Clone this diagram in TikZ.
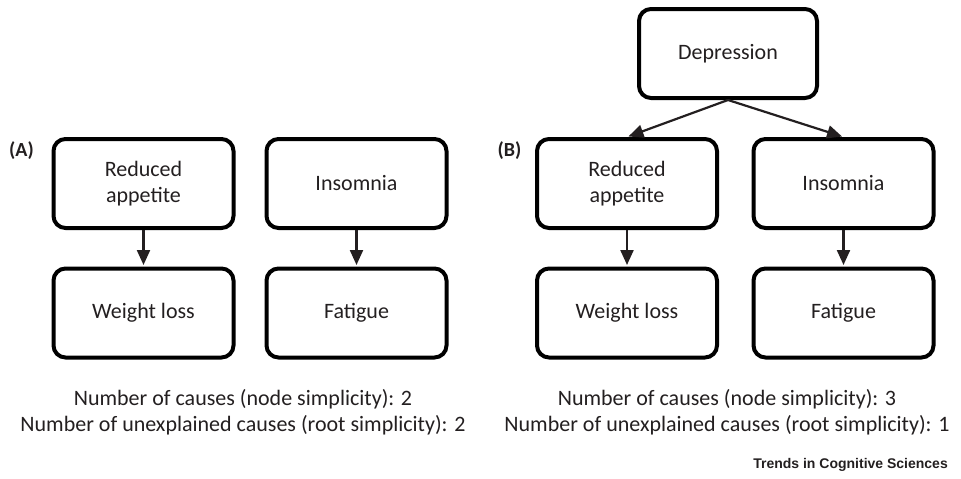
\documentclass[tikz,border=0pt]{standalone}
\usepackage{fontspec}
\setmainfont{Carlito}
\newfontfamily\trendsfont{Liberation Sans}
\usetikzlibrary{arrows.meta}
\definecolor{ink}{HTML}{231F20}
\tikzset{
  cbox/.style={draw=black, line width=4pt, rounded corners=12pt, minimum width=180pt, minimum height=89pt, inner sep=2pt, align=center, font=\fontsize{22}{26}\selectfont, text=ink},
  carrow/.style={draw=ink, line width=2.2pt, -{Triangle[length=15pt,width=13pt]}, shorten >=1.5pt},
  caption/.style={font=\fontsize{22}{25.5}\selectfont, text=ink, align=center},
  plabel/.style={font=\bfseries\fontsize{20}{22}\selectfont, text=ink}
}
\begin{document}
\begin{tikzpicture}[x=1pt,y=-1pt]
\useasboundingbox (0,0) rectangle (961,479);
% Panel A
\node[cbox] (ara) at (143.5,183.5) {Reduced\\appetite};
\node[cbox] (ains) at (356.5,183.5) {Insomnia};
\node[cbox] (awl) at (143.5,313) {Weight loss};
\node[cbox] (afat) at (356.5,313) {Fatigue};
\draw[carrow] (ara.south) -- (awl.north);
\draw[carrow] (ains.south) -- (afat.north);
\node[plabel] (la) at (21.5,151) {(A)};
\node[caption] (capa) at (243,412) {Number of causes (node simplicity): 2\\Number of unexplained causes (root simplicity): 2};
% Panel B
\node[cbox, minimum width=178pt] (dep) at (728,53.5) {Depression};
\node[cbox] (bra) at (627,183.5) {Reduced\\appetite};
\node[cbox] (bins) at (843.5,183.5) {Insomnia};
\node[cbox] (bwl) at (627,313) {Weight loss};
\node[cbox] (bfat) at (843.5,313) {Fatigue};
\draw[carrow] (dep.south) -- (bra.north);
\draw[carrow] (dep.south) -- (bins.north);
\draw[carrow] (bra.south) -- (bwl.north);
\draw[carrow] (bins.south) -- (bfat.north);
\node[plabel] (lb) at (509.5,151) {(B)};
\node[caption] (capb) at (727,412) {Number of causes (node simplicity): 3\\Number of unexplained causes (root simplicity): 1};
% footer
\node[anchor=east, font=\trendsfont\bfseries\fontsize{14}{16}\selectfont, text=ink, inner sep=0pt] (trends) at (948,465) {Trends in Cognitive Sciences};
\end{tikzpicture}
\end{document}
